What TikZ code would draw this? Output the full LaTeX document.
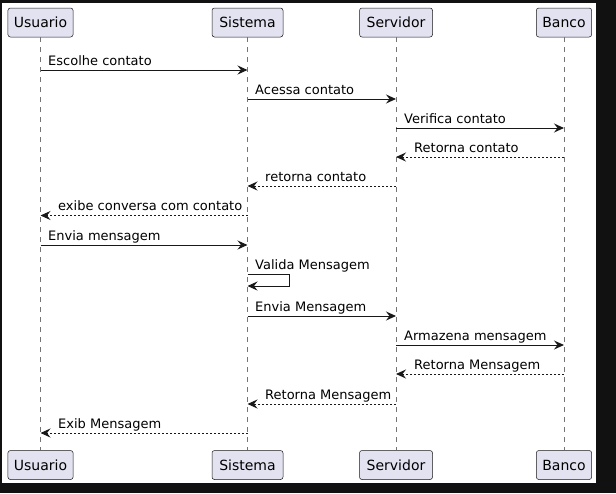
\documentclass[tikz,border=0pt]{standalone}
\usepackage{fontspec}
\setmainfont{DejaVu Sans}
\usetikzlibrary{arrows.meta}
\definecolor{pbg}{RGB}{17,17,17}
\definecolor{pfill}{RGB}{226,226,240}
\definecolor{pline}{RGB}{24,24,24}
\tikzset{
  part/.style={draw=pline, fill=pfill, rounded corners=2.5pt, line width=0.5pt,
    minimum height=29pt, inner xsep=6pt, inner ysep=0pt, font=\fontsize{14}{16}\selectfont, text=black},
  life/.style={draw=pline!60, line width=0.5pt, dash pattern=on 5pt off 5pt},
  msg/.style={draw=pline, line width=1pt, -{Stealth[length=10pt,width=9pt,inset=3.5pt]}},
  ret/.style={msg, dash pattern=on 2pt off 2pt},
  lbl/.style={anchor=base west, inner sep=0pt, font=\fontsize{13}{15}\selectfont, text=black}
}
\begin{document}
\begin{tikzpicture}[x=1pt,y=-1pt]
\useasboundingbox (0,0) rectangle (616,493);
\fill[pbg] (0,0) rectangle (616,493);
\fill[white] (2,3) rectangle (596,483);
% participants
\node[part, minimum width=65pt] (Ut) at (40.5,22.5) {Usuario};
\node[part, minimum width=71pt] (St) at (247.5,22.5) {Sistema};
\node[part, minimum width=73pt] (Vt) at (396,22.5) {Servidor};
\node[part, minimum width=55pt] (Bt) at (564,22.5) {Banco};
\node[part, minimum width=65pt] (Ub) at (40.5,465) {Usuario};
\node[part, minimum width=71pt] (Sb) at (247.5,465) {Sistema};
\node[part, minimum width=73pt] (Vb) at (396,465) {Servidor};
\node[part, minimum width=55pt] (Bb) at (564,465) {Banco};
% lifelines
\draw[life] (Ut.south) -- (Ub.north);
\draw[life] (St.south) -- (Sb.north);
\draw[life] (Vt.south) -- (Vb.north);
\draw[life] (Bt.south) -- (Bb.north);
% messages
\draw[msg] (Ut.south |- 0,70) -- (St.south |- 0,70);
\node[lbl] (m1) at (48,65) {Escolhe contato};
\draw[msg] (St.south |- 0,99) -- (Vt.south |- 0,99);
\node[lbl] (m2) at (255,94) {Acessa contato};
\draw[msg] (Vt.south |- 0,128) -- (Bt.south |- 0,128);
\node[lbl] (m3) at (404,123) {Verifica contato};
\draw[ret] (Bt.south |- 0,157) -- (Vt.south |- 0,157);
\node[lbl] (m4) at (414,152) {Retorna contato};
\draw[ret] (Vt.south |- 0,186) -- (St.south |- 0,186);
\node[lbl] (m5) at (265,181) {retorna contato};
\draw[ret] (St.south |- 0,215.5) -- (Ut.south |- 0,215.5);
\node[lbl] (m6) at (58,210.5) {exibe conversa com contato};
\draw[msg] (Ut.south |- 0,245) -- (St.south |- 0,245);
\node[lbl] (m7) at (48,240) {Envia mensagem};
\draw[msg] (St.south |- 0,274) -| (289,286) -- (St.south |- 0,286);
\node[lbl] (m8) at (255,269) {Valida Mensagem};
\draw[msg] (St.south |- 0,316) -- (Vt.south |- 0,316);
\node[lbl] (m9) at (255,311) {Envia Mensagem};
\draw[msg] (Vt.south |- 0,345) -- (Bt.south |- 0,345);
\node[lbl] (m10) at (404,340) {Armazena mensagem};
\draw[ret] (Bt.south |- 0,374) -- (Vt.south |- 0,374);
\node[lbl] (m11) at (414,369) {Retorna Mensagem};
\draw[ret] (Vt.south |- 0,404) -- (St.south |- 0,404);
\node[lbl] (m12) at (265,399) {Retorna Mensagem};
\draw[ret] (St.south |- 0,433) -- (Ut.south |- 0,433);
\node[lbl] (m13) at (58,428) {Exib Mensagem};
\end{tikzpicture}
\end{document}
